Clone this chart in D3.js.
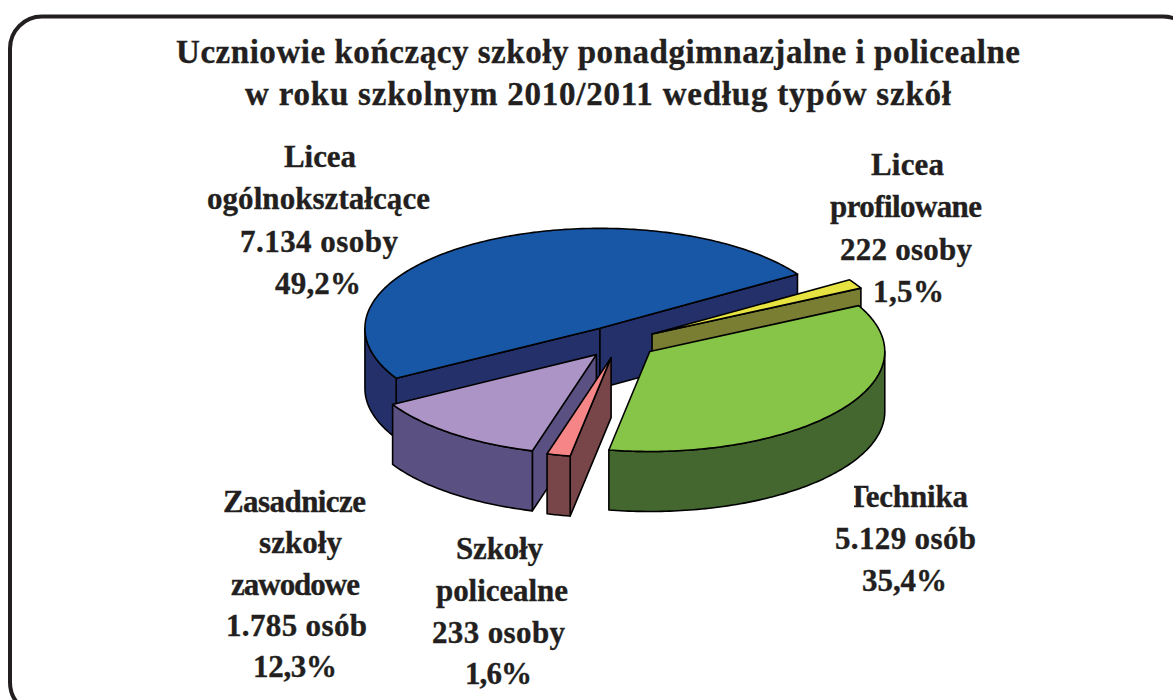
<!DOCTYPE html>
<html><head><meta charset="utf-8">
<script src="https://cdn.jsdelivr.net/npm/d3@7"></script>
<style>html,body{margin:0;padding:0;background:#fff;overflow:hidden}svg{display:block}
text{font-family:"Liberation Serif",serif;font-weight:bold;fill:#231f20;stroke:#231f20;stroke-width:.35;text-anchor:middle}</style>
</head><body><svg id="c" width="1173" height="700"></svg>
<script>
const categories = ["Licea profilowane","Technika","Szkoły policealne","Zasadnicze szkoły zawodowe","Licea ogólnokształcące"];
const values = [222,5129,233,1785,7134];
const topColors = ["#e7e340","#86c548","#f58587","#ac94c6","#1757a6"];
const sideColors = ["#7a7e33","#43672f","#784548","#5b5082","#24306a"];
const titleLines = ["Uczniowie kończący szkoły ponadgimnazjalne i policealne","w roku szkolnym 2010/2011 według typów szkół"];
const labelLines = [
 ["Licea","profilowane","222 osoby","1,5%"],
 ["Technika","5.129 osób","35,4%"],
 ["Szkoły","policealne","233 osoby","1,6%"],
 ["Zasadnicze","szkoły","zawodowe","1.785 osób","12,3%"],
 ["Licea","ogólnokształcące","7.134 osoby","49,2%"]
];
// layout of the label lines: left and right ink edge of each line, first baseline, line step
const labelEdges = [
 [[871,944],[830,982],[840,972],[873,944]],
 [[848,968],[835,976],[862,947]],
 [[456,543],[436,568],[432,565],[465,532]],
 [[223,366],[259,342],[231,360],[226,367],[253,337]],
 [[284,356],[207,430],[240,398],[275,361]]
];
const labelBase = [175,507,559,512,167];
const labelStep = [42.4,41.8,41.8,41.3,42.4];
const drawOrder = [4,0,1,3,2];

const svg = d3.select("#c");
// frame
svg.append("rect").attr("x",10).attr("y",16.5).attr("width",1185).attr("height",698).attr("rx",32)
   .attr("fill","#fff").attr("stroke","#231f20").attr("stroke-width",4);

const cx=619.5, cy=342, rx=235, ry=100, depth=60, explode=0.16;
const deg=Math.PI/180;
const pie=d3.pie().sort(null).startAngle(57.2*deg).endAngle((57.2+360)*deg);
const arcs=pie(values);
const pt=(c,a,dy=0)=>[c[0]+rx*Math.sin(a), c[1]-ry*Math.cos(a)+dy];
const line=d3.line();
const sample=(a0,a1)=>{const n=Math.max(2,Math.ceil(Math.abs(a1-a0)/deg));return d3.range(n+1).map(i=>a0+(a1-a0)*i/n);};

const g=svg.append("g").attr("stroke","#000").attr("stroke-width",1.6).attr("stroke-linejoin","round");
drawOrder.forEach(i=>{
  const d=arcs[i], mid=(d.startAngle+d.endAngle)/2;
  const c=[cx+explode*rx*Math.sin(mid), cy-explode*ry*Math.cos(mid)];
  // cut faces: only those turned toward the viewer
  const faces=[];
  if(Math.sin(d.startAngle)<0) faces.push(d.startAngle);
  if(Math.sin(d.endAngle)>0) faces.push(d.endAngle);
  faces.forEach(a=>{
    g.append("path").attr("fill",sideColors[i])
     .attr("d",line([c,pt(c,a),pt(c,a,depth),[c[0],c[1]+depth]])+"Z");
  });
  // outer wall (front half only)
  const a0=Math.max(d.startAngle,90*deg), a1=Math.min(d.endAngle,270*deg);
  if(a1>a0){
    const ts=sample(a0,a1);
    const wall=ts.map(a=>pt(c,a)).concat(ts.slice().reverse().map(a=>pt(c,a,depth)));
    g.append("path").attr("fill",sideColors[i]).attr("d",line(wall)+"Z");
  }
  // top face
  const top=[c].concat(sample(d.startAngle,d.endAngle).map(a=>pt(c,a)));
  g.append("path").attr("fill",topColors[i]).attr("d",line(top)+"Z");
});

// title
svg.selectAll("text.t").data(titleLines).join("text").attr("class","t")
  .attr("x",598).attr("y",(d,i)=>63+i*42).attr("font-size",33)
  .attr("textLength",(d,i)=>[844,706][i]).attr("lengthAdjust","spacing").text(d=>d);
// labels
labelLines.forEach((lines,i)=>{
  svg.append("g").selectAll("text").data(lines).join("text")
    .attr("x",(d,k)=>(labelEdges[i][k][0]+labelEdges[i][k][1])/2)
    .attr("y",(d,k)=>labelBase[i]+k*labelStep[i])
    .attr("font-size",31)
    .attr("textLength",(d,k)=>labelEdges[i][k][1]-labelEdges[i][k][0])
    .attr("lengthAdjust","spacing").text(d=>d);
});
// the reference cuts off the left of the "T" in "Technika"
svg.append("rect").attr("x",842).attr("y",482).attr("width",12).attr("height",30).attr("fill","#fff");
</script></body></html>
